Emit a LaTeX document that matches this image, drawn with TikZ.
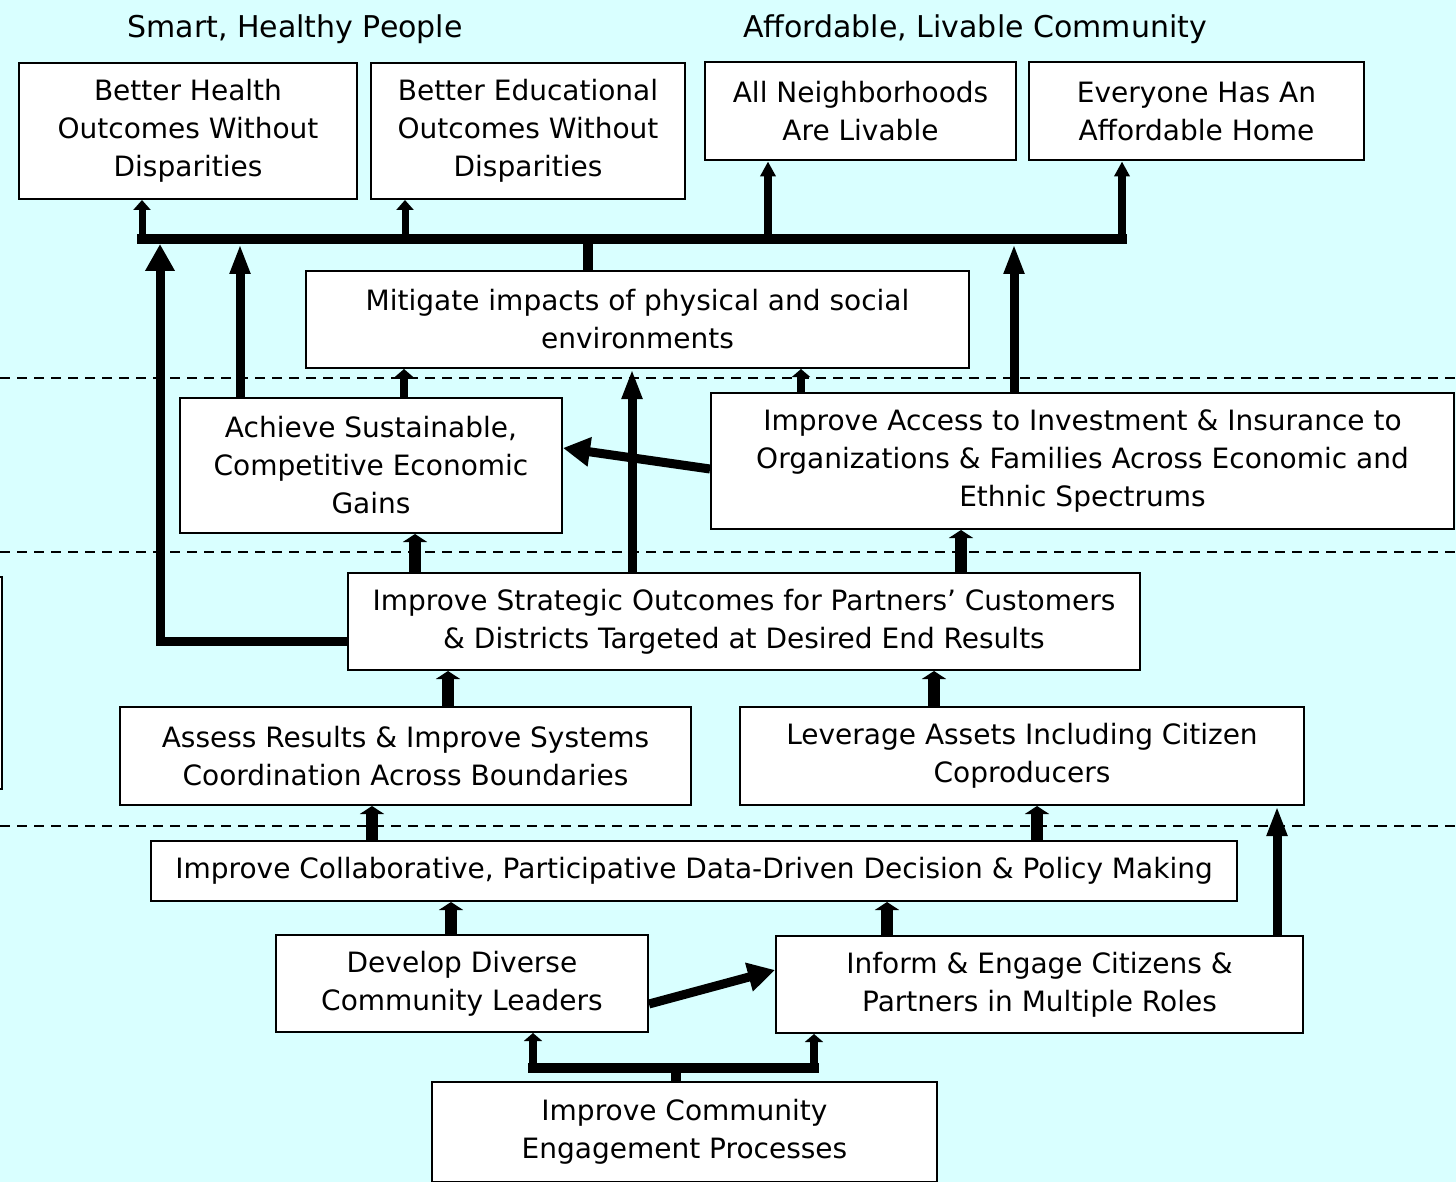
\documentclass[tikz,border=0pt]{standalone}
\usepackage{fontspec}
\setmainfont{DejaVu Sans}
\usetikzlibrary{arrows.meta}

\definecolor{bgcyan}{RGB}{217,255,255}

\begin{document}
\begin{tikzpicture}[x=0.5pt, y=-0.5pt,
	box/.style={draw, line width=1pt, fill=white, align=center, inner sep=0pt,
		font=\fontsize{14}{19}\selectfont},
	heading/.style={font=\fontsize{15}{19}\selectfont},
	layer/.style={dashed, line width=1pt, dash pattern=on 5pt off 3.5pt},
	busline/.style={line width=5pt, line cap=rect},
	thinarrow/.style={line width=3.5pt, -{Triangle[width=8.5pt,length=5pt]}},
	midarrow/.style={line width=4pt, -{Triangle[width=7.5pt,length=7.5pt]}},
	longarrow/.style={line width=4.5pt, -{Triangle[width=9.5pt,length=15pt]}},
	widearrow/.style={line width=4.5pt, -{Triangle[width=14pt,length=13.5pt]}},
	stubarrow/.style={line width=4pt, -{Triangle[width=9pt,length=4pt]}},
	chunkarrow/.style={line width=6pt, -{Triangle[width=12pt,length=4pt]}}]
	\useasboundingbox (0,0) rectangle (1456,1182);
	\fill[bgcyan] (0,0) rectangle (1456,1182);

	% layers
	\draw[layer] (0,378) -- (1456,378);
	\draw[layer] (0,552) -- (1456,552);
	\draw[layer] (0,826) -- (1456,826);
	\draw[line width=1pt, fill=white] (-10,577) rectangle (2,789);

	% end results
	\node[heading] (smart) at (295,29) {Smart, Healthy People};
	\node[heading] (afford) at (975,29) {Affordable, Livable Community};
	\node[box, minimum width=169pt, minimum height=68pt] (health) at (188,131)
		{Better Health\\Outcomes Without\\Disparities};
	\node[box, minimum width=157pt, minimum height=68pt] (educ) at (528,131)
		{Better Educational\\Outcomes Without\\Disparities};
	\node[box, minimum width=155.5pt, minimum height=49pt] (livable) at (860.5,111.5)
		{All Neighborhoods\\Are Livable};
	\node[box, minimum width=167.5pt, minimum height=49pt] (home) at (1196.5,111.5)
		{Everyone Has An\\Affordable Home};

	% strategies
	\node[box, minimum width=331.5pt, minimum height=48.5pt] (mitigate) at (637.5,319.5)
		{Mitigate impacts of physical and social\\environments};
	\node[box, minimum width=191pt, minimum height=67.5pt] (achieve) at (371,465.5)
		{Achieve Sustainable,\\Competitive Economic\\Gains};
	\node[box, minimum width=371.5pt, minimum height=68pt] (access) at (1082.5,461)
		{Improve Access to Investment \& Insurance to\\Organizations \& Families Across Economic and\\Ethnic Spectrums};
	\node[box, minimum width=396pt, minimum height=48.5pt] (strategic) at (744,621.5)
		{Improve Strategic Outcomes for Partners’ Customers\\\& Districts Targeted at Desired End Results};
	\node[box, minimum width=285.5pt, minimum height=49pt] (assess) at (405.5,756)
		{Assess Results \& Improve Systems\\Coordination Across Boundaries};
	\node[box, minimum width=282pt, minimum height=49pt] (leverage) at (1022,756)
		{Leverage Assets Including Citizen\\Coproducers};
	\node[box, minimum width=543pt, minimum height=30pt] (collab) at (694,871)
		{Improve Collaborative, Participative Data-Driven Decision \& Policy Making};
	\node[box, minimum width=186pt, minimum height=48.5pt] (develop) at (462,983.5)
		{Develop Diverse\\Community Leaders};
	\node[box, minimum width=263.5pt, minimum height=48.5pt] (inform) at (1039.5,984.5)
		{Inform \& Engage Citizens \&\\Partners in Multiple Roles};
	\node[box, minimum width=252.5pt, minimum height=50pt] (community) at (684.5,1132)
		{Improve Community\\Engagement Processes};

	% top bus
	\coordinate (busL) at (142,239);
	\coordinate (busE) at (405,239);
	\coordinate (busM) at (588,239);
	\coordinate (busN) at (768,239);
	\coordinate (busR) at (1122,239);
	\coordinate (busA) at (160,244);
	\coordinate (busB) at (240,244);
	\coordinate (busC) at (1014,244);
	\draw[busline] (busL) -- (busR);
	\draw[line width=5pt] (busM) -- (busM |- mitigate.north);
	\draw[thinarrow] (busL) -- (busL |- health.south);
	\draw[thinarrow] (busE) -- (busE |- educ.south);
	\draw[midarrow] (busN) -- (busN |- livable.south);
	\draw[midarrow] (busR) -- (busR |- home.south);

	% up to the bus
	\draw[widearrow] ([yshift=-9.75pt]strategic.west) -| (busA);
	\draw[longarrow] (busB |- achieve.north) -- (busB);
	\draw[longarrow] (busC |- access.north) -- (busC);

	% middle layers
	\draw[stubarrow] (404,0 |- achieve.north) -- (404,0 |- mitigate.south);
	\draw[stubarrow] (801,0 |- access.north) -- (801,0 |- mitigate.south);
	\draw[longarrow] (632,0 |- strategic.north) -- (632,0 |- mitigate.south);
	\draw[widearrow] ([yshift=-4pt]access.west) -- ([yshift=8.75pt]achieve.east);
	\draw[chunkarrow] (415,0 |- strategic.north) -- (415,0 |- achieve.south);
	\draw[chunkarrow] (961,0 |- strategic.north) -- (961,0 |- access.south);
	\draw[chunkarrow] (448,0 |- assess.north) -- (448,0 |- strategic.south);
	\draw[chunkarrow] (934,0 |- leverage.north) -- (934,0 |- strategic.south);

	% bottom layers
	\draw[chunkarrow] (372,0 |- collab.north) -- (372,0 |- assess.south);
	\draw[chunkarrow] (1037,0 |- collab.north) -- (1037,0 |- leverage.south);
	\draw[longarrow] (1277,0 |- inform.north) -- (1277,0 |- leverage.south);
	\draw[chunkarrow] (451,0 |- develop.north) -- (451,0 |- collab.south);
	\draw[chunkarrow] (887,0 |- inform.north) -- (887,0 |- collab.south);
	\draw[widearrow] ([yshift=-10.25pt]develop.east) -- ([yshift=7.25pt]inform.west);

	% bottom bus
	\coordinate (busD) at (533,1068);
	\coordinate (busP) at (676,1068);
	\coordinate (busI) at (814,1068);
	\draw[busline] (busD) -- (busI);
	\draw[line width=5pt] (busP |- community.north) -- (busP);
	\draw[stubarrow] (busD) -- (busD |- develop.south);
	\draw[stubarrow] (busI) -- (busI |- inform.south);
\end{tikzpicture}
\end{document}
